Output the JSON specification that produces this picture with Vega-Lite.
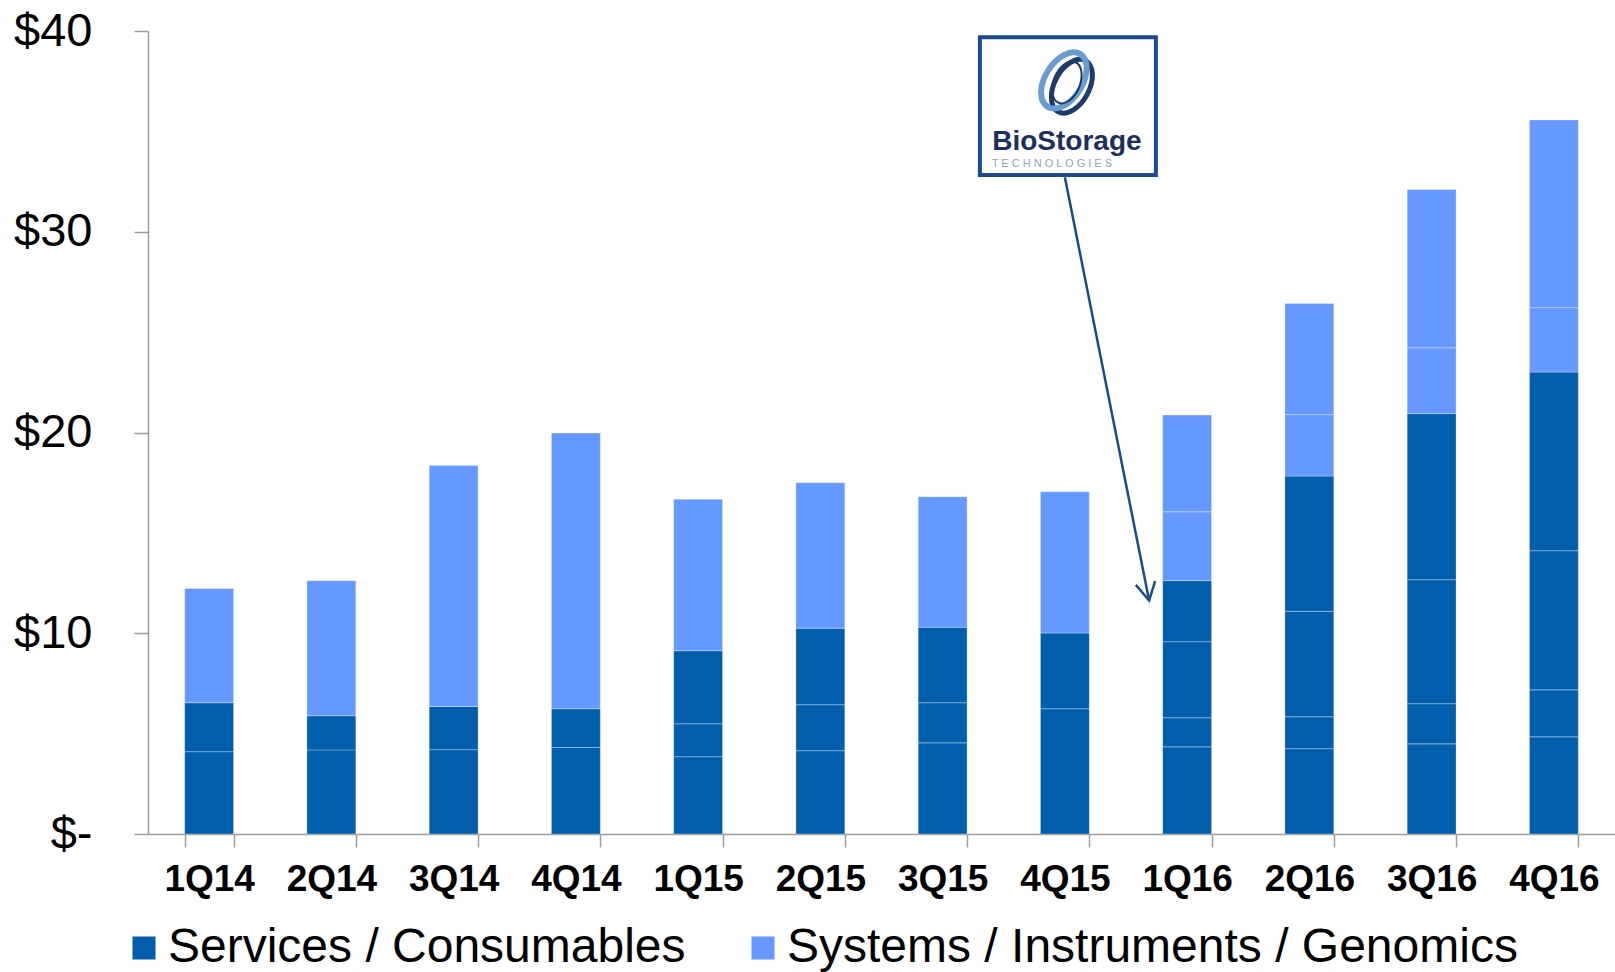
{
  "$schema": "https://vega.github.io/schema/vega-lite/v6.json",
  "autosize": {"type": "none"},
  "padding": {"left": 148, "top": 31, "right": 0, "bottom": 138},
  "width": 1467,
  "height": 803,
  "background": "white",
  "config": {"view": {"stroke": null}},
  "datasets": {
    "segs": [
      {"q": "1Q14", "s": "Services / Consumables", "o": 1, "v": 4.10},
      {"q": "1Q14", "s": "Services / Consumables", "o": 2, "v": 2.44},
      {"q": "1Q14", "s": "Systems / Instruments / Genomics", "o": 5, "v": 5.69},
      {"q": "2Q14", "s": "Services / Consumables", "o": 1, "v": 4.19},
      {"q": "2Q14", "s": "Services / Consumables", "o": 2, "v": 1.70},
      {"q": "2Q14", "s": "Systems / Instruments / Genomics", "o": 5, "v": 6.73},
      {"q": "3Q14", "s": "Services / Consumables", "o": 1, "v": 4.20},
      {"q": "3Q14", "s": "Services / Consumables", "o": 2, "v": 2.15},
      {"q": "3Q14", "s": "Systems / Instruments / Genomics", "o": 5, "v": 12.00},
      {"q": "4Q14", "s": "Services / Consumables", "o": 1, "v": 4.31},
      {"q": "4Q14", "s": "Services / Consumables", "o": 2, "v": 1.93},
      {"q": "4Q14", "s": "Systems / Instruments / Genomics", "o": 5, "v": 13.73},
      {"q": "1Q15", "s": "Services / Consumables", "o": 1, "v": 3.85},
      {"q": "1Q15", "s": "Services / Consumables", "o": 2, "v": 1.64},
      {"q": "1Q15", "s": "Services / Consumables", "o": 3, "v": 3.64},
      {"q": "1Q15", "s": "Systems / Instruments / Genomics", "o": 5, "v": 7.54},
      {"q": "2Q15", "s": "Services / Consumables", "o": 1, "v": 4.15},
      {"q": "2Q15", "s": "Services / Consumables", "o": 2, "v": 2.29},
      {"q": "2Q15", "s": "Services / Consumables", "o": 3, "v": 3.81},
      {"q": "2Q15", "s": "Systems / Instruments / Genomics", "o": 5, "v": 7.25},
      {"q": "3Q15", "s": "Services / Consumables", "o": 1, "v": 4.54},
      {"q": "3Q15", "s": "Services / Consumables", "o": 2, "v": 2.00},
      {"q": "3Q15", "s": "Services / Consumables", "o": 3, "v": 3.76},
      {"q": "3Q15", "s": "Systems / Instruments / Genomics", "o": 5, "v": 6.50},
      {"q": "4Q15", "s": "Services / Consumables", "o": 1, "v": 6.24},
      {"q": "4Q15", "s": "Services / Consumables", "o": 2, "v": 3.77},
      {"q": "4Q15", "s": "Systems / Instruments / Genomics", "o": 5, "v": 7.04},
      {"q": "1Q16", "s": "Services / Consumables", "o": 1, "v": 4.34},
      {"q": "1Q16", "s": "Services / Consumables", "o": 2, "v": 1.45},
      {"q": "1Q16", "s": "Services / Consumables", "o": 3, "v": 3.79},
      {"q": "1Q16", "s": "Services / Consumables", "o": 4, "v": 3.04},
      {"q": "1Q16", "s": "Systems / Instruments / Genomics", "o": 5, "v": 3.43},
      {"q": "1Q16", "s": "Systems / Instruments / Genomics", "o": 6, "v": 4.82},
      {"q": "2Q16", "s": "Services / Consumables", "o": 1, "v": 4.25},
      {"q": "2Q16", "s": "Services / Consumables", "o": 2, "v": 1.59},
      {"q": "2Q16", "s": "Services / Consumables", "o": 3, "v": 5.25},
      {"q": "2Q16", "s": "Services / Consumables", "o": 4, "v": 6.74},
      {"q": "2Q16", "s": "Systems / Instruments / Genomics", "o": 5, "v": 3.06},
      {"q": "2Q16", "s": "Systems / Instruments / Genomics", "o": 6, "v": 5.54},
      {"q": "3Q16", "s": "Services / Consumables", "o": 1, "v": 4.49},
      {"q": "3Q16", "s": "Services / Consumables", "o": 2, "v": 2.00},
      {"q": "3Q16", "s": "Services / Consumables", "o": 3, "v": 6.18},
      {"q": "3Q16", "s": "Services / Consumables", "o": 4, "v": 8.27},
      {"q": "3Q16", "s": "Systems / Instruments / Genomics", "o": 5, "v": 3.28},
      {"q": "3Q16", "s": "Systems / Instruments / Genomics", "o": 6, "v": 7.88},
      {"q": "4Q16", "s": "Services / Consumables", "o": 1, "v": 4.84},
      {"q": "4Q16", "s": "Services / Consumables", "o": 2, "v": 2.34},
      {"q": "4Q16", "s": "Services / Consumables", "o": 3, "v": 6.93},
      {"q": "4Q16", "s": "Services / Consumables", "o": 4, "v": 8.90},
      {"q": "4Q16", "s": "Systems / Instruments / Genomics", "o": 5, "v": 3.21},
      {"q": "4Q16", "s": "Systems / Instruments / Genomics", "o": 6, "v": 9.35}
    ],
    "box": [{"q": "4Q15", "top": 39.69, "bottom": 32.83}],
    "arrow": [{"from": "4Q15", "to": "1Q16", "v1": 32.72, "v2": 11.63}],
    "tip": [{"q": "1Q16", "v": 11.63}],
    "ringA": [{"q": "4Q15", "v": 37.25}],
    "ringB": [{"q": "4Q15", "v": 37.54}],
    "ringC": [{"q": "4Q15", "v": 37.44}],
    "name": [{"q": "4Q15", "v": 34.06, "t": "BioStorage"}],
    "sub": [{"q": "4Q15", "v": 33.24, "t": "T E C H N O L O G I E S"}]
  },
  "encoding": {
    "x": {
      "field": "q",
      "type": "nominal",
      "scale": {
        "domain": ["1Q14", "2Q14", "3Q14", "4Q14", "1Q15", "2Q15", "3Q15", "4Q15", "1Q16", "2Q16", "3Q16", "4Q16"],
        "paddingInner": 0.6,
        "paddingOuter": 0.3
      },
      "axis": {
        "title": null,
        "labelAngle": 0,
        "labelFont": "Liberation Sans",
        "labelFontWeight": "bold",
        "labelFontSize": 37,
        "labelColor": "#000000",
        "labelBaseline": "middle",
        "labelPadding": 32,
        "tickBand": "extent",
        "tickSize": 13,
        "tickWidth": 1.5,
        "tickColor": "#9d9d9d",
        "domainColor": "#9d9d9d",
        "domainWidth": 1.5
      }
    },
    "y": {
      "type": "quantitative",
      "scale": {"domain": [0, 40], "nice": false},
      "axis": {
        "title": null,
        "grid": false,
        "values": [0, 10, 20, 30, 40],
        "labelExpr": "datum.value == 0 ? '$-\u00a0\u00a0' : '$' + datum.value",
        "labelFont": "Liberation Sans",
        "labelFontSize": 47,
        "labelColor": "#000000",
        "labelPadding": 42,
        "tickSize": 14,
        "tickWidth": 1.5,
        "tickColor": "#9d9d9d",
        "domainColor": "#9d9d9d",
        "domainWidth": 1.5
      }
    }
  },
  "layer": [
    {
      "data": {"name": "segs"},
      "mark": {"type": "bar", "stroke": "#ffffff", "strokeOpacity": 0.3, "strokeWidth": 1},
      "encoding": {
        "y": {"field": "v", "type": "quantitative", "stack": "zero"},
        "color": {
          "field": "s",
          "type": "nominal",
          "scale": {
            "domain": ["Services / Consumables", "Systems / Instruments / Genomics"],
            "range": ["#005EAC", "#6699FF"]
          },
          "legend": {
            "title": null,
            "orient": "none",
            "legendX": -28,
            "legendY": 893,
            "direction": "horizontal",
            "padding": 0,
            "symbolType": "square",
            "symbolSize": 529,
            "symbolStrokeWidth": 0,
            "labelFont": "Liberation Sans",
            "labelFontSize": 48,
            "labelColor": "#000000",
            "labelOffset": 0,
            "labelLimit": 1000,
            "columnPadding": 53
          }
        },
        "order": {"field": "o", "type": "quantitative"}
      }
    },
    {
      "data": {"name": "box"},
      "mark": {"type": "bar", "fill": "#ffffff", "stroke": "#1a4c8a", "strokeWidth": 4, "width": 176, "xOffset": 3},
      "encoding": {
        "y": {"field": "top", "type": "quantitative"},
        "y2": {"field": "bottom"}
      }
    },
    {
      "data": {"name": "arrow"},
      "mark": {"type": "rule", "stroke": "#1a4c8a", "strokeWidth": 2.5, "x2Offset": -38},
      "encoding": {
        "x": {"field": "from", "type": "nominal"},
        "x2": {"field": "to"},
        "y": {"field": "v1", "type": "quantitative"},
        "y2": {"field": "v2"}
      }
    },
    {
      "data": {"name": "tip"},
      "mark": {"type": "point", "shape": "M-0.665,-0.785L0,0L0.3,-0.965", "size": 1600, "filled": false, "stroke": "#1a4c8a", "strokeWidth": 2.5, "opacity": 1, "xOffset": -38},
      "encoding": {"y": {"field": "v", "type": "quantitative"}}
    },
    {
      "data": {"name": "ringA"},
      "mark": {"type": "point", "shape": "M0,-1C0.331,-1,0.6,-0.552,0.6,0C0.6,0.552,0.331,1,0,1C-0.331,1,-0.6,0.552,-0.6,0C-0.6,-0.552,-0.331,-1,0,-1Z", "size": 3364, "angle": 28, "filled": false, "stroke": "#1c3a6b", "strokeWidth": 5, "opacity": 1, "xOffset": 7},
      "encoding": {"y": {"field": "v", "type": "quantitative"}}
    },
    {
      "data": {"name": "ringB"},
      "mark": {"type": "point", "shape": "M0,-1C0.331,-1,0.6,-0.552,0.6,0C0.6,0.552,0.331,1,0,1C-0.331,1,-0.6,0.552,-0.6,0C-0.6,-0.552,-0.331,-1,0,-1Z", "size": 3844, "angle": 32, "filled": false, "stroke": "#6a9bd1", "strokeWidth": 6, "opacity": 1, "xOffset": -1},
      "encoding": {"y": {"field": "v", "type": "quantitative"}}
    },
    {
      "data": {"name": "ringC"},
      "mark": {"type": "point", "shape": "M0,-1C0.331,-1,0.6,-0.552,0.6,0C0.6,0.552,0.331,1,0,1C-0.331,1,-0.6,0.552,-0.6,0C-0.6,-0.552,-0.331,-1,0,-1Z", "size": 1936, "angle": 22, "filled": false, "stroke": "#1c3a6b", "strokeWidth": 2, "opacity": 1, "xOffset": 2},
      "encoding": {"y": {"field": "v", "type": "quantitative"}}
    },
    {
      "data": {"name": "name"},
      "mark": {"type": "text", "font": "Liberation Sans", "fontWeight": "bold", "fontSize": 28, "fill": "#1c2f5e", "align": "center", "baseline": "alphabetic", "xOffset": 2},
      "encoding": {"y": {"field": "v", "type": "quantitative"}, "text": {"field": "t"}}
    },
    {
      "data": {"name": "sub"},
      "mark": {"type": "text", "font": "Liberation Sans", "fontSize": 11, "fill": "#8fa6c4", "align": "center", "baseline": "alphabetic", "xOffset": -13},
      "encoding": {"y": {"field": "v", "type": "quantitative"}, "text": {"field": "t"}}
    }
  ]
}
